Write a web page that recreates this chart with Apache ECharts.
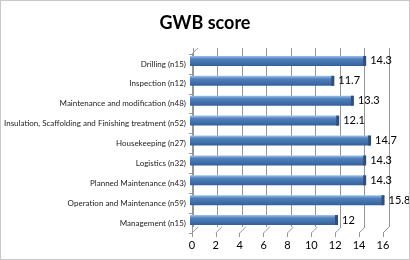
<!DOCTYPE html>
<html>
<head>
<meta charset="utf-8">
<script src="https://cdn.jsdelivr.net/npm/echarts@6/dist/echarts.min.js"></script>
<style>
    html, body { margin:0; padding:0; background:#fff; }
    #chart { width:410px; height:260px; box-sizing:border-box; border:1px solid #c8c8c8; }
</style>
</head>
<body>
<div id="chart"></div>
<script>
let categories = [
    'Drilling (n15)',
    'Inspection (n12)',
    'Maintenance and modification (n48)',
    'Insulation, Scaffolding and Finishing treatment (n52)',
    'Housekeeping (n27)',
    'Logistics (n32)',
    'Planned Maintenance (n43)',
    'Operation and Maintenance (n59)',
    'Management (n15)'
];
let scores = [14.3, 11.7, 13.3, 12.1, 14.7, 14.3, 14.3, 15.8, 12];
let xTicks = [0, 2, 4, 6, 8, 10, 12, 14, 16];

let fontFamily = 'Lato, "Noto Sans", sans-serif';
let depth = 6;
let myChart = echarts.init(document.getElementById('chart'));

// three grids: back wall, bars (middle depth), front axes
let grids = [
    { left:192, top:47, width:196, height:179 },
    { left:189, top:50, width:196, height:179 },
    { left:186, top:53, width:196, height:179 }
];

let valueAxis = { type:'value', min:0, max:16, interval:2 };

let option = {
    animation:false,
    textStyle:{ fontFamily },
    title:{
        text:'GWB score',
        left:'center',
        top:8,
        textStyle:{ fontSize:18, fontWeight:'bold', color:'#000', fontFamily }
    },
    grid:grids,
    xAxis:[
        Object.assign({}, valueAxis, {
            gridIndex:0,
            axisLine:{ show:false },
            axisTick:{ show:false },
            axisLabel:{ show:false },
            splitLine:{ show:true, lineStyle:{ color:'#969696', width:1 } }
        }),
        Object.assign({}, valueAxis, { gridIndex:1, show:false }),
        Object.assign({}, valueAxis, {
            gridIndex:2,
            axisLine:{ show:false },
            axisTick:{ show:true, length:4, lineStyle:{ color:'#969696' } },
            axisLabel:{ color:'#000', fontSize:11, margin:7, fontFamily },
            splitLine:{ show:false }
        })
    ],
    yAxis:[
        { type:'category', gridIndex:0, inverse:true, data:categories, show:false },
        { type:'category', gridIndex:1, inverse:true, data:categories, show:false },
        {
            type:'category', gridIndex:2, inverse:true, data:categories,
            axisLine:{ show:true, lineStyle:{ color:'#969696' } },
            axisTick:{ show:true, length:3, lineStyle:{ color:'#969696' } },
            axisLabel:{ color:'#222', fontSize:8, margin:6, fontFamily }
        }
    ],
    series:[
        {
            // floor diagonals + left wall top edge
            type:'custom',
            xAxisIndex:2,
            yAxisIndex:2,
            silent:true,
            data:xTicks.map(v=>[v, 0]),
            renderItem:(params, api)=>{
                let p = api.coord([api.value(0), 0]);
                let cs = params.coordSys;
                let y0 = cs.y + cs.height;
                let children = [{
                    type:'line',
                    shape:{ x1:p[0], y1:y0, x2:p[0]+depth, y2:y0-depth },
                    style:{ stroke:'#969696', lineWidth:1 }
                }];
                if ( api.value(0) === 0 ){
                    children.push({
                        type:'line',
                        shape:{ x1:p[0], y1:cs.y, x2:p[0]+depth, y2:cs.y-depth },
                        style:{ stroke:'#969696', lineWidth:1 }
                    });
                }
                return { type:'group', children };
            }
        },
        {
            type:'bar',
            xAxisIndex:1,
            yAxisIndex:1,
            barWidth:10,
            z:3,
            itemStyle:{
                color:{
                    type:'linear', x:0, y:0, x2:0, y2:1,
                    colorStops:[
                        { offset:0, color:'#a3c2ea' },
                        { offset:0.3, color:'#4f81bd' },
                        { offset:1, color:'#34609a' }
                    ]
                }
            },
            label:{
                show:true,
                position:'right',
                distance:5,
                color:'#000',
                fontSize:11,
                fontFamily
            },
            data:scores
        },
        {
            type:'pictorialBar',
            xAxisIndex:1,
            yAxisIndex:1,
            z:4,
            symbol:'rect',
            symbolPosition:'end',
            symbolSize:[3, 10],
            symbolOffset:[1, 0],
            itemStyle:{ color:'#2b4f80' },
            data:scores
        }
    ]
};
myChart.setOption(option);
</script>
</body>
</html>
